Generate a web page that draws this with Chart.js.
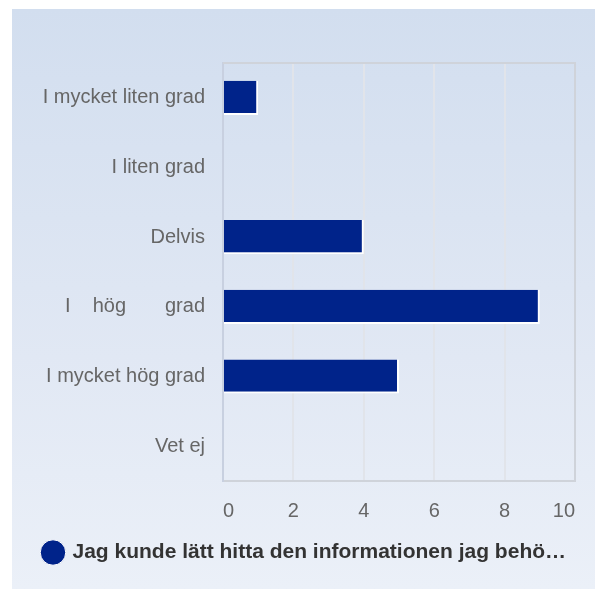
<!DOCTYPE html>
<html>
<head>
<meta charset="utf-8">
<script src="https://cdn.jsdelivr.net/npm/chart.js@4"></script>
<style>
  html, body { margin: 0; padding: 0; background: #fff; }
  #panel {
    position: absolute; left: 12px; top: 9px; width: 583px; height: 580px;
    background: linear-gradient(to bottom, #d2deef 0%, #e1e8f4 60%, #ebf0f8 100%);
  }
  #wrap { position: absolute; left: 0; top: 0; width: 597px; height: 589px; }
</style>
</head>
<body>
<div id="panel"></div>
<div id="wrap"><canvas id="chart" width="597" height="589"></canvas></div>
<script>
// ---- data ----
const categories = [
  'I mycket liten grad',
  'I liten grad',
  'Delvis',
  'I    hög       grad',
  'I mycket hög grad',
  'Vet ej'
];
const seriesLabel = 'Jag kunde lätt hitta den informationen jag behö…';
const seriesValues = [1, 0, 4, 9, 5, 0];
const xTicks = [0, 2, 4, 6, 8, 10];

const BAR = '#00238a';
const TICK = '#666666';
const FONT = 'Liberation Sans, Arial';

// top/right frame of the plot area
const frame = {
  id: 'frame',
  afterDraw(chart) {
    const { ctx, chartArea: a } = chart;
    ctx.save();
    ctx.strokeStyle = '#cfd3da';
    ctx.lineWidth = 2;
    ctx.beginPath();
    ctx.moveTo(a.left, a.top);
    ctx.lineTo(a.right, a.top);
    ctx.lineTo(a.right, a.bottom);
    ctx.stroke();
    ctx.restore();
  }
};

new Chart(document.getElementById('chart'), {
  type: 'bar',
  data: {
    labels: categories,
    datasets: [{
      label: seriesLabel,
      data: seriesValues,
      backgroundColor: BAR,
      borderColor: '#ffffff',
      borderWidth: { top: 0, left: 0, right: 2, bottom: 2 },
      borderSkipped: false,
      categoryPercentage: 1,
      barPercentage: 0.49
    }]
  },
  options: {
    indexAxis: 'y',
    responsive: false,
    animation: false,
    devicePixelRatio: 1,
    layout: { padding: { top: 63, right: 22, bottom: 16, left: 23 } },
    plugins: {
      tooltip: { enabled: false },
      legend: {
        position: 'bottom',
        align: 'start',
        labels: {
          usePointStyle: true,
          pointStyle: 'circle',
          boxWidth: 18,
          boxHeight: 18,
          padding: 21,
          color: '#333333',
          font: { family: FONT, size: 21, weight: 'bold' }
        }
      }
    },
    scales: {
      x: {
        min: 0,
        max: 10,
        afterBuildTicks: s => { s.ticks = xTicks.map(v => ({ value: v })); },
        afterFit: s => { s.height = 40; },
        grid: { color: '#e1e4ea', lineWidth: 2, drawTicks: false },
        border: { color: '#cfd3da', width: 2 },
        ticks: { color: TICK, padding: 18, align: 'inner', font: { family: FONT, size: 20 } }
      },
      y: {
        afterFit: s => { s.width = 200; },
        grid: { display: false, drawTicks: false },
        border: { color: '#c8d0e0', width: 2 },
        ticks: { color: TICK, padding: 18, font: { family: FONT, size: 20 } }
      }
    }
  },
  plugins: [frame]
});
</script>
</body>
</html>
